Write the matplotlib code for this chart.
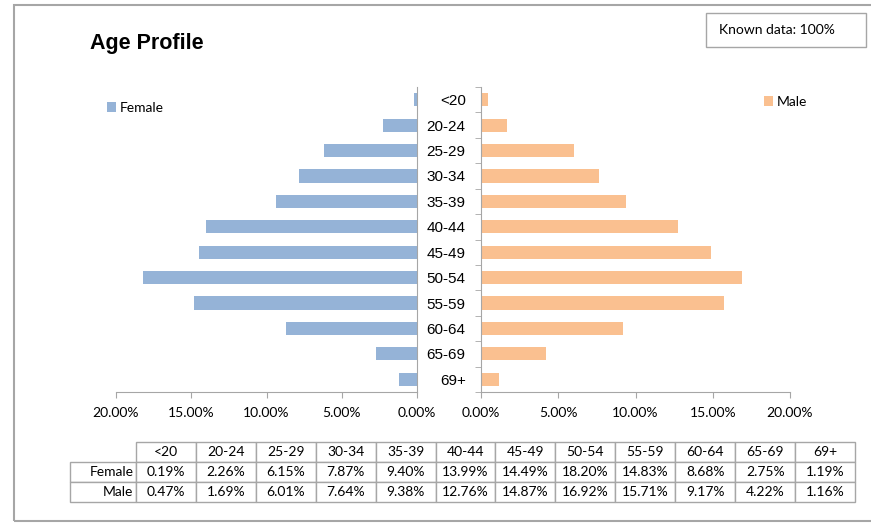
import matplotlib.pyplot as plt
from matplotlib.patches import Rectangle
from matplotlib.ticker import FuncFormatter
import numpy as np

# age bands and share of each sex per band (fractions)
ages = ["<20", "20-24", "25-29", "30-34", "35-39", "40-44", "45-49",
        "50-54", "55-59", "60-64", "65-69", "69+"]
female = [0.0019, 0.0226, 0.0615, 0.0787, 0.0940, 0.1399, 0.1449,
          0.1820, 0.1483, 0.0868, 0.0275, 0.0119]
male = [0.0047, 0.0169, 0.0601, 0.0764, 0.0938, 0.1276, 0.1487,
        0.1692, 0.1571, 0.0917, 0.0422, 0.0116]
row_names = ["Female", "Male"]
xticks = [0.0, 0.05, 0.10, 0.15, 0.20]

FEM_COL = "#95B3D7"
MALE_COL = "#FAC090"
LINE_COL = "#A6A6A6"

W, H = 871, 524
fig = plt.figure(figsize=(W / 100, H / 100), dpi=100)

def box(x0, y0, x1, y1):
    # pixel box (top-left origin) -> figure fraction rect
    return [x0 / W, 1 - y1 / H, (x1 - x0) / W, (y1 - y0) / H]

# outer frame, runs off the right edge
fig.patches.append(Rectangle((14 / W, 1 - 521 / H), 1.0, (521 - 5) / H,
                             transform=fig.transFigure, fill=False,
                             edgecolor=LINE_COL, linewidth=1.5))

fig.text(90 / W, 1 - 43.5 / H, "Age Profile", fontsize=15.5, fontweight="bold",
         family="Liberation Sans", va="center", ha="left")

# "Known data" box
fig.patches.append(Rectangle((706 / W, 1 - 47 / H), (866 - 706) / W, (47 - 13) / H,
                             transform=fig.transFigure, fill=False,
                             edgecolor=LINE_COL, linewidth=1.0))
fig.text(719 / W, 1 - 30.5 / H, "Known data: 100%", fontsize=10, family="Lato",
         va="center", ha="left")

ax_l = fig.add_axes(box(116, 87, 417, 392))
ax_r = fig.add_axes(box(481, 87, 790, 392))

y = np.arange(len(ages))
ax_l.barh(y, female, height=0.52, color=FEM_COL, label="Female")
ax_r.barh(y, male, height=0.52, color=MALE_COL, label="Male")

pct = FuncFormatter(lambda v, p: f"{v * 100:.2f}%")
for ax in (ax_l, ax_r):
    ax.set_ylim(len(ages) - 0.5, -0.5)
    ax.set_xticks(xticks)
    ax.xaxis.set_major_formatter(pct)
    ax.tick_params(axis="x", direction="out", length=4, color=LINE_COL,
                   labelsize=10, pad=7)
    for lab in ax.get_xticklabels():
        lab.set_family("Lato")
    ax.spines["top"].set_visible(False)
    ax.spines["bottom"].set_color(LINE_COL)

ax_l.set_xlim(0.20, 0)
ax_l.spines["left"].set_visible(False)
ax_l.spines["right"].set_color(LINE_COL)
ax_l.set_yticks([])

ax_r.set_xlim(0, 0.20)
ax_r.spines["right"].set_visible(False)
ax_r.spines["left"].set_color(LINE_COL)
ax_r.set_yticks(y)
ax_r.set_yticklabels(ages, family="Liberation Sans", fontsize=11)
ax_r.set_yticks(np.arange(len(ages) + 1) - 0.5, minor=True)
ax_r.tick_params(axis="y", which="major", length=0, pad=11)
ax_r.tick_params(axis="y", which="minor", direction="out", length=4,
                 color=LINE_COL)

leg_kw = dict(frameon=False, handlelength=0.65, handleheight=0.65,
              handletextpad=0.3, borderpad=0, borderaxespad=0,
              bbox_transform=fig.transFigure, prop={"family": "Lato", "size": 10})
ax_l.legend(loc="center left", bbox_to_anchor=(107 / W, 1 - 108 / H), **leg_kw)
ax_r.legend(loc="center left", bbox_to_anchor=(764 / W, 1 - 102 / H), **leg_kw)

# data table under the chart; bbox covers the value columns only,
# the row-label column hangs off to the left
ax_t = fig.add_axes(box(136, 442, 855, 502))
ax_t.axis("off")
cells = [[f"{v * 100:.2f}%" for v in female],
         [f"{v * 100:.2f}%" for v in male]]
tbl = ax_t.table(cellText=cells, colLabels=ages, cellLoc="center",
                 colWidths=[1 / 12] * 12, bbox=[0, 0, 1, 1])
row_h = tbl[1, 0].get_height()
for i, name in enumerate(row_names):
    tbl.add_cell(i + 1, -1, width=66 / 719, height=row_h, text=name, loc="right")
tbl.auto_set_font_size(False)
for (r, c), cell in tbl.get_celld().items():
    cell.set_edgecolor(LINE_COL)
    cell.set_linewidth(1.0)
    cell.get_text().set_fontsize(10)
    cell.get_text().set_family("Lato")
    if c == -1:
        cell.PAD = 0.04

fig.savefig("out.png", dpi=100)
